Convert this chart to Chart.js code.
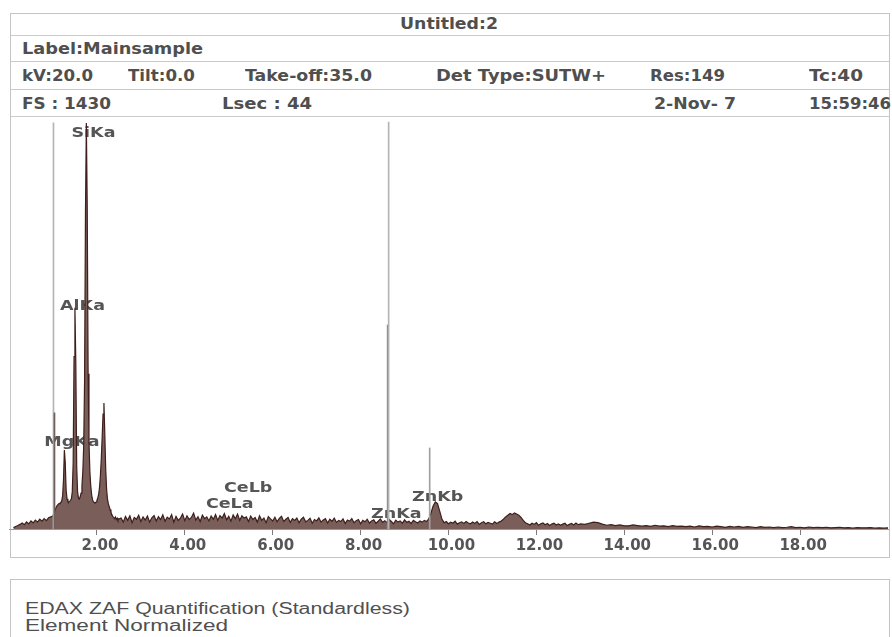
<!DOCTYPE html>
<html>
<head>
<meta charset="utf-8">
<title>Untitled:2</title>
<script src="https://cdn.jsdelivr.net/npm/chart.js@4.4.1/dist/chart.umd.min.js"></script>
<style>
html, body { margin: 0; padding: 0; background: #fff; }
body { width: 892px; height: 637px; position: relative; overflow: hidden; font-family: "DejaVu Sans", sans-serif; }
.box { position: absolute; border: 1px solid #c4c4c4; box-sizing: border-box; }
.rule { position: absolute; left: 10px; width: 879px; height: 0; border-top: 1px solid #cacaca; }
.t { position: absolute; white-space: nowrap; color: #4f4f4f; font-weight: bold; font-size: 16px; line-height: 20px; transform-origin: 0 50%; }
.f { font-family: "Liberation Sans", Arial, sans-serif; font-weight: normal; color: #505050; }
#spec { position: absolute; left: 9px; top: 117px; }
</style>
</head>
<body>

<div class="box" style="left:10px;top:13px;width:880px;height:545px"></div>
<div class="rule" style="top:35px"></div>
<div class="rule" style="top:61px"></div>
<div class="rule" style="top:89px"></div>
<div class="rule" style="top:116px"></div>

<span class="t" style="left:400px;top:14px" data-w="98">Untitled:2</span>
<span class="t" style="left:22px;top:39px" data-w="181">Label:Mainsample</span>

<span class="t" style="left:22px;top:66px" data-w="71">kV:20.0</span>
<span class="t" style="left:128px;top:66px" data-w="67">Tilt:0.0</span>
<span class="t" style="left:245px;top:66px" data-w="127">Take-off:35.0</span>
<span class="t" style="left:436px;top:66px" data-w="170">Det Type:SUTW+</span>
<span class="t" style="left:650px;top:66px" data-w="75">Res:149</span>
<span class="t" style="left:809px;top:66px" data-w="54">Tc:40</span>

<span class="t" style="left:22px;top:94px" data-w="89">FS : 1430</span>
<span class="t" style="left:222px;top:94px" data-w="90">Lsec : 44</span>
<span class="t" style="left:654px;top:94px" data-w="82">2-Nov- 7</span>
<span class="t" style="left:809px;top:94px" data-w="82">15:59:46</span>

<canvas id="spec" width="880" height="440" style="width:880px;height:440px"></canvas>

<div class="box" style="left:10px;top:579px;width:880px;height:80px"></div>
<span class="t f" style="left:25px;top:599px" data-w="385">EDAX ZAF Quantification (Standardless)</span>
<span class="t f" style="left:25px;top:616px" data-w="203">Element Normalized</span>

<script>
// 满刻度计数
const fullScale = 1430;

// 能谱: 各段起点 / 步长 / 计数
const lowStart = 0.10, lowStep = 0.05;
const lowCounts = [4, 9, 12, 16, 21, 15, 25, 18, 28, 21, 31, 24, 34, 27, 36, 29, 39, 42];

const peakStart = 1.00, peakStep = 0.02;
const peakCounts = [
    45, 55, 62, 70, 78, 82, 86, 88, 90, 92,          // 1.00 - 1.18
    98, 115, 170, 275, 230, 135, 105, 96, 94, 96,    // 1.20 - 1.38  MgKa
    100, 105, 130, 230, 600, 770, 580, 220, 130, 108, // 1.40 - 1.58  AlKa
    104, 112, 125, 150, 200, 290, 520, 1100, 1413, 1120, // 1.60 - 1.78  SiKa
    540, 300, 200, 150, 120, 102, 95, 92, 90, 94,    // 1.80 - 1.98
    100, 108, 120, 145, 185, 245, 320, 400, 438, 330, // 2.00 - 2.18
    210, 140, 105, 88, 78, 68, 58, 50, 44, 40,       // 2.20 - 2.38
    36, 42, 33, 38, 30, 35                           // 2.40 - 2.50
];

const midStart = 2.55, midStep = 0.05;
const midCounts = [
    38, 24, 44, 30, 46, 22, 40, 34, 48, 26, 42, 31, 45, 24, 39, 47, 28, 43, 33, 49,   // 2.55 - 3.50
    27, 41, 35, 50, 24, 44, 30, 38, 52, 29, 46, 33, 40, 55, 31, 43, 26, 48, 36, 42,   // 3.55 - 4.50
    28, 45, 34, 50, 30, 47, 38, 54, 32, 44, 27, 49, 36, 52, 30, 46, 38, 42, 26, 45,   // 4.55 - 5.50
    33, 40, 24, 46, 30, 38, 22, 43, 35, 28, 41, 25, 37, 44, 26, 34, 40, 23, 36, 30,   // 5.55 - 6.50
    38, 22, 34, 41, 25, 30, 37, 20, 33, 28, 39, 24, 31, 36, 21, 34, 27, 38, 23, 30,   // 6.55 - 7.50
    26, 35, 19, 31, 27, 36, 22, 29, 33, 18, 30, 25, 34, 21, 28, 32, 20, 27, 35, 23,   // 7.55 - 8.50
    29, 22, 33, 26, 18, 31, 24, 28, 20, 32, 23, 27, 19, 30, 25, 21, 28, 24, 30, 26,   // 8.55 - 9.50
    35, 55, 80, 94, 88, 62, 35, 22, 26, 18, 24, 20, 27, 17, 22, 25, 19, 26, 21, 18,   // 9.55 - 10.50
    24, 19, 26, 16, 22, 25, 18, 23, 20, 17, 25, 19, 24, 28, 34, 42, 48, 54, 50, 56,   // 10.55 - 11.50
    52, 48, 40, 30, 22, 18, 14, 20, 16, 22, 13, 18, 21, 15, 19, 12, 17, 20, 14, 18,   // 11.55 - 12.50
    13, 17, 20, 12, 16, 19, 14, 21, 15, 18                                           // 12.55 - 13.00
];

const tailStart = 13.1, tailStep = 0.1;
const tailCounts = [
    16, 20, 24, 22, 17, 13, 15, 12, 14, 11,          // 13.1 - 14.0
    11, 14, 12, 10, 12, 9, 13, 10, 11, 8,            // 14.1 - 15.0
    12, 9, 10, 8, 10, 7, 11, 8, 9, 7,                // 15.1 - 16.0
    10, 8, 6, 9, 7, 9, 6, 8, 7, 5,                   // 16.1 - 17.0
    8, 6, 7, 5, 7, 5, 6, 8, 5, 6,                    // 17.1 - 18.0
    4, 7, 5, 6, 5, 6, 4, 5, 6, 4,                    // 18.1 - 19.0
    5, 3, 5, 4, 4, 5, 3, 4, 3, 4                     // 19.1 - 20.0
];

// KLM 标记线 (Zn)
const markerEnergy = [1.012, 1.035, 8.615, 8.638, 9.572];
const markerHeight = [1413, 404, 710, 1416, 282];

// 峰标签
const peakNames = ['SiKa', 'AlKa', 'MgKa', 'CeLb', 'CeLa', 'ZnKa', 'ZnKb'];
const peakEnergy = [1.74, 1.49, 1.25, 5.26, 4.84, 8.63, 9.57];
const peakLabelLevel = [1378, 776, 303, 143, 87, 52, 111];

// 横轴刻度
const xTicks = [2, 4, 6, 8, 10, 12, 14, 16, 18];

// 文字按原图宽度拉伸
document.querySelectorAll('[data-w]').forEach(el => {
    const w = el.getBoundingClientRect().width;
    el.style.transform = 'scaleX(' + (el.dataset.w / w).toFixed(3) + ')';
});

function toPoints(start, step, counts) {
    return counts.map((c, i) => ({ x: +(start + i * step).toFixed(2), y: c }));
}

const spectrum = [].concat(
    toPoints(lowStart, lowStep, lowCounts),
    toPoints(peakStart, peakStep, peakCounts),
    toPoints(midStart, midStep, midCounts),
    toPoints(tailStart, tailStep, tailCounts)
);

const peakLabels = {
    id: 'peakLabels',
    beforeDatasetsDraw(chart) {
        const { ctx, scales: { x, y } } = chart;
        ctx.save();
        ctx.font = 'bold 14px "DejaVu Sans"';
        ctx.fillStyle = '#555';
        ctx.textAlign = 'center';
        ctx.textBaseline = 'middle';
        peakNames.forEach((name, i) => {
            const px = x.getPixelForValue(peakEnergy[i]) + 8;
            const py = y.getPixelForValue(peakLabelLevel[i]);
            ctx.save();
            ctx.translate(px, py);
            ctx.scale(1.25, 1);
            ctx.fillText(name, 0, 0);
            ctx.restore();
        });
        ctx.restore();
    }
};

new Chart(document.getElementById('spec'), {
    data: {
        datasets: [
            {
                type: 'bar',
                data: markerEnergy.map((e, i) => ({ x: e, y: markerHeight[i] })),
                backgroundColor: ['#b4b4b4', '#6f5f5d', '#8a8a8a', '#b4b4b4', '#a0a0a0'],
                barThickness: 1,
                grouped: false,
                order: 0
            },
            {
                type: 'line',
                data: spectrum,
                borderColor: '#3f1f1b',
                borderWidth: 1.2,
                backgroundColor: '#7a5e5a',
                fill: 'origin',
                pointRadius: 0,
                tension: 0,
                order: 1
            }
        ]
    },
    plugins: [peakLabels],
    options: {
        responsive: false,
        animation: false,
        devicePixelRatio: 1,
        layout: { padding: { top: 1, left: 0, right: 1, bottom: 0 } },
        plugins: { legend: { display: false }, tooltip: { enabled: false } },
        scales: {
            x: {
                type: 'linear',
                min: 0,
                max: 20,
                offset: false,
                afterBuildTicks: s => { s.ticks = xTicks.map(v => ({ value: v })); },
                afterFit: s => { s.height = 28; },
                grid: { offset: false, drawOnChartArea: false, drawTicks: true, tickLength: 6, tickWidth: 1, tickColor: '#7a7a7a' },
                border: { display: true, color: '#9a9a9a', width: 1 },
                ticks: {
                    autoSkip: false,
                    maxRotation: 0,
                    padding: 2,
                    labelOffset: 3,
                    color: '#555',
                    font: { family: 'DejaVu Sans', weight: 'bold', size: 15 },
                    callback: v => v.toFixed(2)
                }
            },
            y: { display: false, min: 0, max: fullScale }
        }
    }
});
</script>
</body>
</html>
